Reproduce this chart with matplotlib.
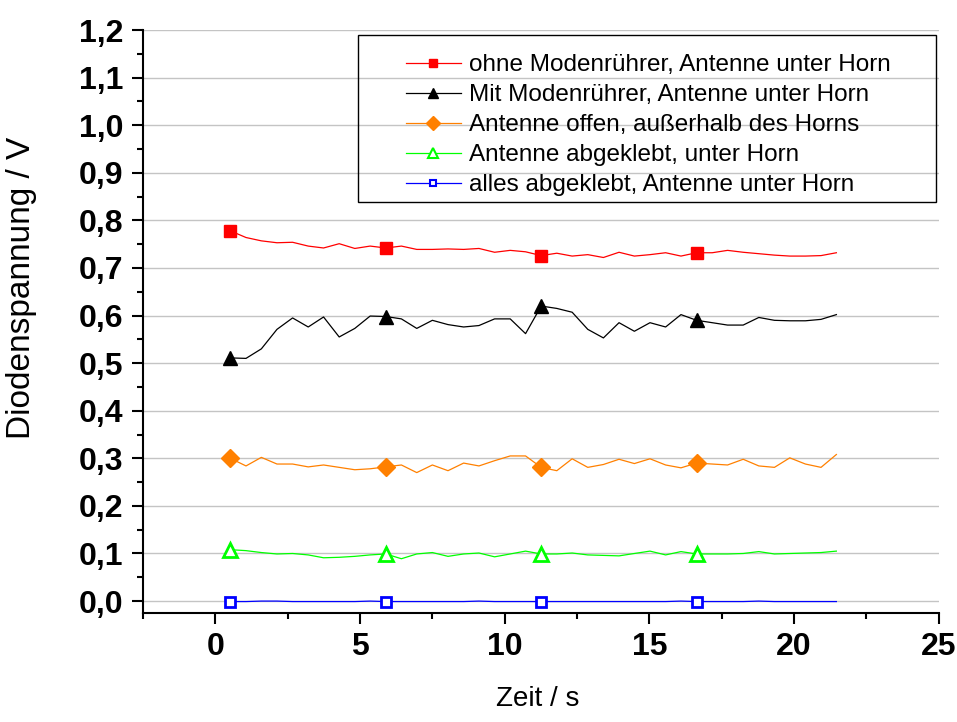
import matplotlib
matplotlib.use("Agg")
import matplotlib.pyplot as plt
from matplotlib.lines import Line2D
from matplotlib.patches import Rectangle
from matplotlib.ticker import MultipleLocator, FuncFormatter

plt.rcParams['font.family'] = ['Liberation Sans', 'DejaVu Sans']

# Messzeitpunkte (s)
zeit = [0.52, 1.06, 1.59, 2.13, 2.67, 3.21, 3.74, 4.28, 4.82, 5.35,
        5.89, 6.43, 6.96, 7.50, 8.04, 8.58, 9.11, 9.65, 10.19, 10.72,
        11.26, 11.80, 12.33, 12.87, 13.41, 13.95, 14.48, 15.02, 15.56, 16.09,
        16.63, 17.17, 17.70, 18.24, 18.78, 19.32, 19.85, 20.39, 20.93, 21.46]

ohne_ruehrer = [0.778, 0.764, 0.757, 0.753, 0.754, 0.746, 0.742, 0.751, 0.741, 0.746,
                0.742, 0.746, 0.739, 0.739, 0.740, 0.739, 0.741, 0.733, 0.737, 0.734,
                0.726, 0.731, 0.725, 0.728, 0.722, 0.733, 0.725, 0.728, 0.732, 0.725,
                0.732, 0.732, 0.737, 0.733, 0.730, 0.727, 0.725, 0.725, 0.726, 0.732]

mit_ruehrer = [0.511, 0.510, 0.530, 0.571, 0.595, 0.576, 0.597, 0.555, 0.573, 0.599,
               0.598, 0.593, 0.573, 0.590, 0.581, 0.576, 0.579, 0.593, 0.593, 0.562,
               0.620, 0.615, 0.607, 0.571, 0.553, 0.585, 0.567, 0.585, 0.576, 0.602,
               0.590, 0.585, 0.580, 0.580, 0.596, 0.590, 0.589, 0.589, 0.592, 0.602]

offen_ausserhalb = [0.300, 0.284, 0.302, 0.288, 0.288, 0.282, 0.286, 0.281, 0.276, 0.278,
                    0.282, 0.286, 0.270, 0.286, 0.274, 0.290, 0.284, 0.295, 0.305, 0.305,
                    0.281, 0.274, 0.299, 0.281, 0.287, 0.298, 0.289, 0.299, 0.286, 0.280,
                    0.290, 0.288, 0.286, 0.298, 0.284, 0.281, 0.301, 0.288, 0.281, 0.308]

antenne_abgeklebt = [0.108, 0.106, 0.102, 0.099, 0.100, 0.097, 0.091, 0.092, 0.094, 0.097,
                     0.099, 0.089, 0.099, 0.102, 0.094, 0.099, 0.101, 0.093, 0.099, 0.105,
                     0.099, 0.099, 0.101, 0.097, 0.096, 0.095, 0.100, 0.105, 0.097, 0.104,
                     0.099, 0.099, 0.099, 0.100, 0.104, 0.099, 0.100, 0.101, 0.102, 0.105]

alles_abgeklebt = [-0.001, -0.001, 0.000, 0.000, -0.001, -0.001, -0.001, -0.001, -0.001, 0.000,
                   -0.001, -0.001, -0.001, -0.001, -0.001, -0.001, 0.000, -0.001, -0.001, -0.001,
                   -0.001, -0.001, -0.001, -0.001, -0.001, -0.001, -0.001, -0.001, -0.001, 0.000,
                   -0.001, -0.001, -0.001, -0.001, 0.000, -0.001, -0.001, -0.001, -0.001, -0.001]

labels = ["ohne Modenrührer, Antenne unter Horn",
          "Mit Modenrührer, Antenne unter Horn",
          "Antenne offen, außerhalb des Horns",
          "Antenne abgeklebt, unter Horn",
          "alles abgeklebt, Antenne unter Horn"]

fig = plt.figure(figsize=(9.57, 7.22), dpi=100)
ax = fig.add_axes([0.1494, 0.151, 0.8316, 0.8074])

orange = '#FF8000'
styles = [
    dict(color='red', marker='s', ms=8.5, mfc='red', mec='red', mew=1),
    dict(color='black', marker='^', ms=10, mfc='black', mec='black', mew=1),
    dict(color=orange, marker='D', ms=9.5, mfc=orange, mec=orange, mew=1),
    dict(color='#00FF00', marker='^', ms=9.5, mfc='white', mec='#00FF00', mew=2),
    dict(color='blue', marker='s', ms=7, mfc='white', mec='blue', mew=2),
]
series = [ohne_ruehrer, mit_ruehrer, offen_ausserhalb, antenne_abgeklebt, alles_abgeklebt]

for werte, st in zip(series, styles):
    ax.plot(zeit, werte, lw=0.9, markevery=10, zorder=3, **st)

ax.set_xlim(-2.5, 25)
ax.set_ylim(-0.025, 1.2)

ax.xaxis.set_major_locator(MultipleLocator(5))
ax.xaxis.set_minor_locator(MultipleLocator(2.5))
ax.yaxis.set_major_locator(MultipleLocator(0.1))
ax.yaxis.set_minor_locator(MultipleLocator(0.05))
ax.yaxis.set_major_formatter(FuncFormatter(lambda v, p: f"{v:.1f}".replace('.', ',')))
ax.xaxis.set_major_formatter(FuncFormatter(lambda v, p: f"{v:.0f}"))

for s in ['top', 'right']:
    ax.spines[s].set_visible(False)
for s in ['left', 'bottom']:
    ax.spines[s].set_linewidth(1.5)

ax.tick_params(which='major', direction='out', length=8, width=1.5, labelsize=23, pad=6)
ax.tick_params(which='minor', direction='out', length=4.5, width=1.5)
for lab in ax.get_xticklabels() + ax.get_yticklabels():
    lab.set_fontweight('bold')

ax.yaxis.grid(True, color='#c4c4c4', lw=1.0, zorder=0)
ax.set_axisbelow(True)
fig.canvas.draw()
ax.yaxis.get_gridlines()[-1].set_visible(False)

ax.set_xlabel("Zeit / s", fontsize=20)
ax.set_ylabel("Diodenspannung / V", fontsize=24)
ax.xaxis.set_label_coords(0.496, -0.125)
ax.yaxis.set_label_coords(-0.133, 0.557)

# Legende
handles = []
for st in styles:
    h = dict(st)
    h['ms'] = h['ms'] * 0.7
    h['mew'] = min(h['mew'], 1.5)
    handles.append(Line2D([], [], lw=0.9, **h))
leg = fig.legend(handles, labels, loc='upper left', bbox_to_anchor=(406 / 957, 1 - 54 / 722),
                 frameon=False, fontsize=17.5, borderpad=0, handlelength=2.25,
                 handletextpad=0.34, labelspacing=0.33, borderaxespad=0)
fig.add_artist(Rectangle((358 / 957, 1 - 202 / 722), 578 / 957, 167 / 722,
                         transform=fig.transFigure, fill=False, ec='black', lw=1.0))

fig.savefig("out.png", dpi=100)
